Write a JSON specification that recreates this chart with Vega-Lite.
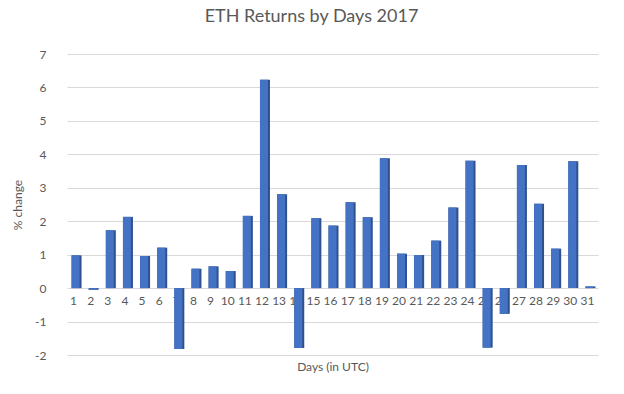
{
  "$schema": "https://vega.github.io/schema/vega-lite/v6.json",
  "autosize": "none",
  "width": 531,
  "height": 301,
  "padding": {"left": 67, "top": 54, "right": 26, "bottom": 39},
  "background": "white",
  "title": {"text": "ETH Returns by Days 2017", "fontSize": 18, "font": "Lato", "fontWeight": "normal", "color": "#595959", "offset": 22, "dx": -21},
  "config": {"view": {"stroke": null}, "font": "Lato"},
  "data": {"values": [
    {"day": 1, "ret": 0.98}, {"day": 2, "ret": -0.05}, {"day": 3, "ret": 1.73}, {"day": 4, "ret": 2.13},
    {"day": 5, "ret": 0.96}, {"day": 6, "ret": 1.21}, {"day": 7, "ret": -1.82}, {"day": 8, "ret": 0.58},
    {"day": 9, "ret": 0.65}, {"day": 10, "ret": 0.51}, {"day": 11, "ret": 2.16}, {"day": 12, "ret": 6.23},
    {"day": 13, "ret": 2.81}, {"day": 14, "ret": -1.79}, {"day": 15, "ret": 2.09}, {"day": 16, "ret": 1.87},
    {"day": 17, "ret": 2.57}, {"day": 18, "ret": 2.12}, {"day": 19, "ret": 3.88}, {"day": 20, "ret": 1.03},
    {"day": 21, "ret": 0.99}, {"day": 22, "ret": 1.42}, {"day": 23, "ret": 2.41}, {"day": 24, "ret": 3.81},
    {"day": 25, "ret": -1.78}, {"day": 26, "ret": -0.77}, {"day": 27, "ret": 3.68}, {"day": 28, "ret": 2.52},
    {"day": 29, "ret": 1.18}, {"day": 30, "ret": 3.79}, {"day": 31, "ret": 0.05}
  ]},
  "encoding": {
    "x": {"field": "day", "type": "ordinal", "sort": "ascending",
      "scale": {"paddingInner": 0.5, "paddingOuter": 0.25},
      "axis": {"title": "Days (in UTC)", "labels": false, "ticks": false, "domain": false, "titleFontSize": 12, "titleFontWeight": "normal", "titleColor": "#595959", "titlePadding": 6, "titleFont": "Lato"}}
  },
  "layer": [
    {
      "mark": {"type": "text", "fontSize": 12, "color": "#595959", "baseline": "middle", "dy": 13, "dx": -2},
      "encoding": {
        "y": {"datum": 0, "type": "quantitative"},
        "text": {"field": "day", "type": "ordinal"}
      }
    },
    {
      "mark": {"type": "bar", "color": "#2F528F", "size": 10, "xOffset": 1},
      "encoding": {
        "y": {"field": "ret", "type": "quantitative",
          "scale": {"domain": [-2, 7], "nice": false, "zero": true},
          "axis": {"title": "% change", "tickCount": 10, "tickMinStep": 1, "labelOverlap": false, "labelExpr": "datum.value < 0 ? '-' + abs(datum.value) : '' + datum.value", "grid": true, "gridColor": "#D9D9D9", "gridWidth": 1, "domain": false, "ticks": false, "labelPadding": 21, "labelFontSize": 12, "labelColor": "#595959", "titleFontSize": 12, "titleFontWeight": "normal", "titleColor": "#595959", "titlePadding": 10, "labelFont": "Lato", "titleFont": "Lato"}}
      }
    },
    {
      "mark": {"type": "bar", "color": "#4472C4", "size": 8, "xOffset": 0},
      "encoding": {
        "y": {"field": "ret", "type": "quantitative"}
      }
    }
  ]
}
